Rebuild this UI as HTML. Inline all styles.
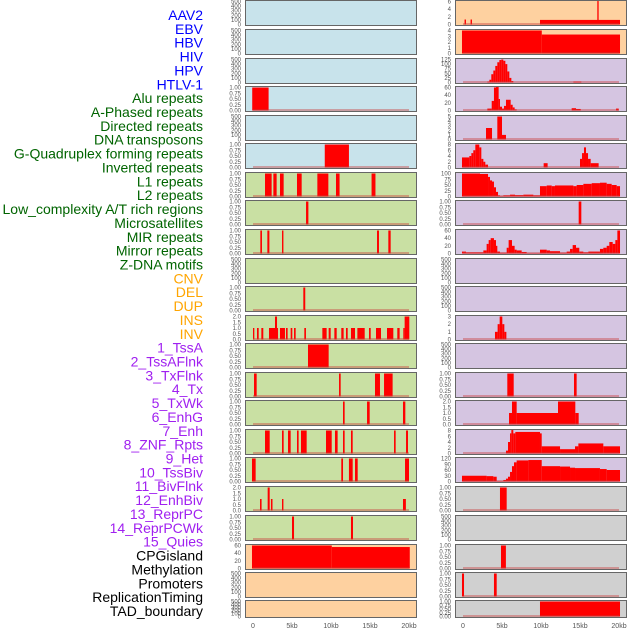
<!DOCTYPE html>
<html><head><meta charset="utf-8">
<style>
html,body{margin:0;padding:0;background:#fff;}
svg{display:block;font-family:"Liberation Sans",sans-serif;}
</style></head>
<body>
<svg id="chart" width="630" height="630" viewBox="0 0 630 630" xmlns="http://www.w3.org/2000/svg"></svg>
<script>
const labels = ["AAV2","EBV","HBV","HIV","HPV","HTLV-1","Alu repeats","A-Phased repeats","Directed repeats","DNA transposons","G-Quadruplex forming repeats","Inverted repeats","L1 repeats","L2 repeats","Low_complexity A/T rich regions","Microsatellites","MIR repeats","Mirror repeats","Z-DNA motifs","CNV","DEL","DUP","INS","INV","1_TssA","2_TssAFlnk","3_TxFlnk","4_Tx","5_TxWk","6_EnhG","7_Enh","8_ZNF_Rpts","9_Het","10_TssBiv","11_BivFlnk","12_EnhBiv","13_ReprPC","14_ReprPCWk","15_Quies","CPGisland","Methylation","Promoters","ReplicationTiming","TAD_boundary"];
const labelGroups = ["virus","virus","virus","virus","virus","virus","repeat","repeat","repeat","repeat","repeat","repeat","repeat","repeat","repeat","repeat","repeat","repeat","repeat","sv","sv","sv","sv","sv","chrom","chrom","chrom","chrom","chrom","chrom","chrom","chrom","chrom","chrom","chrom","chrom","chrom","chrom","chrom","other","other","other","other","other"];
const xTicks = [0,5,10,15,20];
const xTickLabels = ["0","5kb","10kb","15kb","20kb"];
const T500 = [0,100,200,300,400,500];
const TBIN = [0,0.25,0.5,0.75,1.0];
// left column: [bg, ticks, segments [startKb,endKb,value]]
const leftBg = ["blue","blue","blue","blue","blue","blue","green","green","green","green","green","green","green","green","green","green","green","green","green","orange","orange","orange"];
const leftTicks = [T500,T500,T500,TBIN,T500,TBIN,TBIN,TBIN,TBIN,T500,TBIN,[0,0.5,1,1.5,2],TBIN,TBIN,TBIN,TBIN,TBIN,[0,0.5,1,1.5,2],TBIN,[0,20,40,60],T500,T500];
const leftSegs = [
 [],[],[],
 [[-0.1,2.0,1]],
 [],
 [[9.2,12.3,1]],
 [[1.54,2.39,1],[2.61,3.03,1],[3.46,3.93,1],[5.64,6.24,1],[8.25,9.66,1],[10.64,11.1,1],[15.2,15.7,1]],
 [[6.8,7.1,1]],
 [[0.94,1.15,1],[1.84,2.1,1],[3.72,3.9,1],[15.9,16.15,1],[17.35,17.65,1]],
 [],
 [[6.45,6.7,1]],
 [[0,0.17,1],[0.51,0.73,1],[1.07,1.32,1],[2.05,2.82,1],[2.82,3.08,2],[3.08,3.2,1],[3.46,4.1,1],[4.23,4.44,1],[4.83,5.04,1],[5.26,5.47,1],[6.58,6.79,1],[8.89,9.44,1],[9.7,9.96,1],[10.43,10.73,1],[11.32,11.62,1],[11.92,12.14,1],[12.56,13.08,1],[13.38,14.32,1],[14.87,15.09,1],[15.77,16.41,1],[17.18,17.99,1],[18.5,18.8,1],[19.27,19.44,1],[19.44,20.04,2]],
 [[7.05,9.7,1]],
 [[0.13,0.47,1],[11.03,11.24,1],[15.64,16.28,1],[16.8,17.9,1]],
 [[11.54,11.75,1],[14.62,14.96,1],[19.23,19.53,1]],
 [[1.54,2.14,1],[3.72,3.93,1],[4.49,4.83,1],[5.64,5.85,1],[6.15,6.88,1],[9.36,10.09,1],[10.51,10.85,1],[11.54,11.75,1],[12.56,12.78,1],[18.08,18.29,1],[19.62,19.87,1]],
 [[-0.13,0.34,1],[11.32,11.54,1],[12.3,12.78,1],[13.08,13.42,1],[19.49,20.0,1]],
 [[0.9,1.1,1],[1.88,2.14,2],[2.3,2.5,1],[3.72,3.9,1],[19.23,19.6,1]],
 [[5.0,5.26,1],[12.56,12.82,1]],
 [[-0.13,10.1,60],[10.1,20.1,56]],
 [],[]
];
const rightBg = ["orange","orange","purple","purple","purple","purple","purple","purple","purple","purple","purple","purple","purple","purple","purple","purple","purple","gray","gray","gray","gray","gray"];
const rightTicks = [[0,2,4,6],[0,1,2,3,4],[0,25,50,75,100,125],[0,20,40,60],[0,1,2,3,4,5],[0,2,4,6,8],[0,25,50,75,100],TBIN,[0,20,40,60],T500,T500,[0,1,2,3],T500,TBIN,[0,0.5,1,1.5,2],[0,2,4,6,8],[0,30,60,90,120],TBIN,T500,TBIN,TBIN,TBIN];
const rightSegs = [
 [[0.2,0.38,1.3],[0.97,1.15,1.3],[9.87,20.13,1.2],[17.22,17.39,6.3]],
 [[-0.13,10.1,4],[10.1,20.13,3.3]],
 [[3.12,3.38,5],[3.38,3.63,15],[3.63,3.89,45],[3.89,4.14,65],[4.14,4.4,90],[4.4,4.66,110],[4.66,4.91,122],[4.91,5.17,125],[5.17,5.43,118],[5.43,5.68,100],[5.68,5.94,60],[5.94,6.2,25],[6.2,6.45,8],[14.15,15.17,5]],
 [[3.12,3.68,5],[3.68,3.97,25],[3.97,4.23,60],[4.23,4.57,62],[4.57,4.74,30],[4.74,5.0,10],[5.0,5.26,5],[5.26,5.51,12],[5.51,5.77,28],[5.77,6.11,28],[6.11,6.37,15],[6.37,6.62,8],[6.62,6.88,3],[13.93,14.49,6],[14.49,15.09,4],[19.62,19.96,5]],
 [[2.95,3.72,2.5],[4.4,5.0,5],[5.0,5.51,1]],
 [[-0.13,0.81,3.5],[0.81,1.07,4],[1.07,1.32,5],[1.32,1.58,6],[1.58,2.09,8],[2.09,2.35,7],[2.35,2.61,3],[2.61,2.86,2],[2.86,3.21,1],[10.34,10.85,1.5],[15.0,15.26,3],[15.26,15.51,5],[15.51,15.77,7],[15.77,16.03,5],[16.03,16.37,3],[16.37,17.39,1.5]],
 [[-0.13,2.18,100],[2.18,3.21,98],[3.21,3.46,85],[3.46,3.72,70],[3.72,3.97,65],[3.97,4.23,40],[4.23,4.49,20],[4.49,4.74,5],[4.74,5.17,2],[5.17,6.03,5],[6.03,6.67,8],[6.67,7.74,6],[7.74,9.02,8],[9.02,9.87,5],[9.87,10.73,45],[10.73,11.37,48],[11.37,11.79,45],[11.79,14.15,48],[14.15,14.57,45],[14.57,15.43,50],[15.43,16.5,55],[16.5,17.56,58],[17.56,18.42,60],[18.42,19.06,55],[19.06,19.7,50],[19.7,20.13,45]],
 [[14.83,15.17,1]],
 [[-0.13,0.38,5],[0.38,2.61,3],[2.61,3.03,8],[3.03,3.29,25],[3.29,3.55,35],[3.55,3.97,40],[3.97,4.23,35],[4.23,4.4,20],[4.4,4.74,5],[4.74,5.6,2],[5.6,5.85,15],[5.85,6.28,35],[6.28,6.62,20],[6.62,6.88,10],[6.88,7.52,8],[7.52,8.16,4],[8.16,9.87,1],[9.87,10.73,10],[10.73,11.15,8],[11.15,12.44,6],[12.44,13.29,2],[13.29,13.72,5],[13.72,14.06,12],[14.06,14.49,22],[14.49,14.91,15],[14.91,15.43,5],[15.43,16.07,3],[16.07,17.56,5],[17.56,17.99,12],[17.99,18.42,15],[18.42,18.76,20],[18.76,19.19,30],[19.19,19.53,25],[19.53,19.79,35],[19.79,20.13,60]],
 [],[],
 [[4.1,4.44,1],[4.44,4.7,2],[4.7,5.04,3],[5.04,5.3,2],[5.3,5.56,1]],
 [],
 [[5.68,6.5,1],[14.23,14.57,1]],
 [[5.9,6.28,1],[6.28,6.88,2],[6.88,12.18,1],[12.18,14.4,2],[14.4,14.83,1]],
 [[5.51,5.77,1],[5.77,6.03,4],[6.03,6.2,7],[6.2,6.45,8.5],[6.45,6.71,7],[6.71,9.87,7.5],[9.87,10.09,7],[10.09,12.44,2.5],[12.44,14.36,1.5],[14.36,14.79,2.5],[14.79,17.99,3.5],[17.99,20.13,2.5]],
 [[-0.13,3.03,30],[3.03,3.89,28],[3.89,4.32,25],[4.32,5.17,2],[5.17,5.51,8],[5.51,5.77,15],[5.77,6.03,25],[6.03,6.28,50],[6.28,6.54,80],[6.54,6.88,100],[6.88,8.38,110],[8.38,10.09,112],[10.09,12.44,80],[12.44,13.72,78],[13.72,14.36,72],[14.36,17.56,70],[17.56,18.42,65],[18.42,20.13,60]],
 [[4.74,5.6,1]],
 [],
 [[4.87,5.5,1]],
 [[-0.13,0.13,1],[3.97,4.32,1]],
 [[9.87,20.13,1]]
];

const NS="http://www.w3.org/2000/svg";
const svg=document.getElementById('chart');
function mk(tag,attrs,parent){const e=document.createElementNS(NS,tag);for(const k in attrs)e.setAttribute(k,attrs[k]);(parent||svg).appendChild(e);return e;}
const bgColors={blue:"#c8e3eb",green:"#c9e0a3",orange:"#fed1a0",purple:"#d5c5e1",gray:"#d0d0d0"};
const labelColors={virus:"#0000ff",repeat:"#006400",sv:"#ffa500",chrom:"#a020f0",other:"#000000"};
const rowTops=[0,29,58,86,115,143,172,200,229,258,286,315,343,372,400,429,457,486,515,544,572,600];
const rowH=[25,25,25,25,25,25,25,25,25,25,25,25,25,25,25,25,25,25,25,25,25,17];
const cols=[{x0:245,x1:416,bg:leftBg,ticks:leftTicks,segs:leftSegs,name:"left"},{x0:455,x1:626,bg:rightBg,ticks:rightTicks,segs:rightSegs,name:"right"}];
function xScale(col,kb){return col.x0+8+kb*7.8;}

labels.forEach((t,i)=>{
  const el=mk('text',{x:203,y:20+i*13.86,'text-anchor':'end','font-size':14,fill:labelColors[labelGroups[i]]});
  el.textContent=t;
  
  
});

cols.forEach(col=>{
  rowTops.forEach((top,r)=>{
    const h=rowH[r];
    const g=mk('g',{});
    
    
    mk('rect',{x:col.x0+0.5,y:top+0.5,width:col.x1-col.x0,height:h,fill:bgColors[col.bg[r]],stroke:"#666",'stroke-width':1},g);
    const ticks=col.ticks[r];
    const ymax=ticks[ticks.length-1];
    const yb=top+h-0.5, yt=top+1.5;
    const yS=v=>yb-(Math.min(v,ymax*1.02)/ymax)*(yb-yt);
    const dec = ymax<=1 ? 2 : (ticks.some(v=>v%1!==0)?1:0);
    ticks.forEach(v=>{
      const tx=mk('text',{x:col.x0-4,y:yS(v)+2,'text-anchor':'end','font-size':6,fill:"#555"},g);
      tx.textContent=v.toFixed(dec);
      
      
    });
    const segs=col.segs[r];
    segs.forEach(s=>{
      const x1=xScale(col,s[0]),x2=xScale(col,s[1]);
      const y=yS(s[2]);
      const b=mk('rect',{x:x1,y:y,width:Math.max(1,x2-x1),height:yb-y,fill:"#ff0000"},g);
      
      
    });
    if(segs.length){
      const bl=mk('line',{x1:xScale(col,0),x2:xScale(col,20),y1:yb-0.5,y2:yb-0.5,stroke:"rgba(200,60,60,0.55)",'stroke-width':1.5},g);
      
      
    }
  });
  xTicks.forEach((v,i)=>{
    const t=mk('text',{x:xScale(col,v),y:628,'text-anchor':'middle','font-size':7,fill:"#555"});
    t.textContent=xTickLabels[i];
    
    
  });
});
</script>
</body></html>
